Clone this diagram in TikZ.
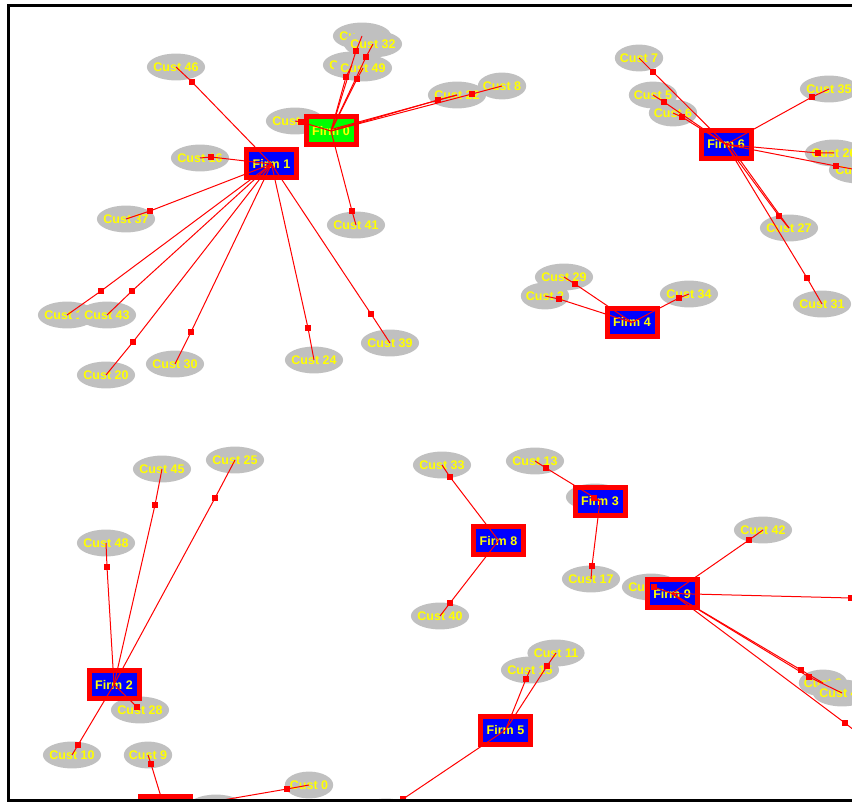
\documentclass[tikz,border=0pt]{standalone}
\usepackage{fontspec}
\newfontfamily\labelfamily{Liberation Sans}
\usetikzlibrary{shapes.geometric}
\definecolor{custgray}{RGB}{192,192,192}
\definecolor{linkred}{RGB}{255,0,0}
\definecolor{firmblue}{RGB}{0,0,255}
\definecolor{firmgreen}{RGB}{0,255,0}
\definecolor{labelyellow}{RGB}{255,255,0}

\begin{document}
\begin{tikzpicture}[x=1pt,y=-1pt,
  labeltext/.style={font=\labelfamily\bfseries\fontsize{12.5}{14}\selectfont,
    text=labelyellow, text height=9pt, text depth=0pt},
  custnode/.style={labeltext, ellipse, fill=custgray, inner xsep=-2pt, inner ysep=5pt},
  firmnode/.style={labeltext, rectangle, draw=linkred, line width=5pt, fill=firmblue,
    minimum width=50pt, minimum height=28pt, inner sep=0pt},
  leadfirm/.style={firmnode, fill=firmgreen},
  linkline/.style={draw=linkred, line width=1pt},
  linkknot/.style={rectangle, fill=linkred, minimum size=6pt, inner sep=0pt},
  viewframe/.style={draw=black, line width=3pt}
]
\useasboundingbox (0,0) rectangle (852,802);

\begin{scope}
\clip (10,7) rectangle (852,799);

% ---- customers (later ones overlap earlier ones) ----
% around Firm 1
\node[custnode] (c46) at (176,67)  {Cust 46};
\node[custnode] (c16) at (200,158) {Cust 16};
\node[custnode] (c37) at (126,219) {Cust 37};
\node[custnode] (c12) at (67,315)  {Cust 12};
\node[custnode] (c43) at (107,315) {Cust 43};
\node[custnode] (c20) at (106,375) {Cust 20};
\node[custnode] (c30) at (175,364) {Cust 30};
\node[custnode] (c24) at (314,360) {Cust 24};
\node[custnode] (c39) at (390,343) {Cust 39};
% around Firm 0
\node[custnode] (c41) at (356,225) {Cust 41};
\node[custnode] (c18) at (295,121) {Cust 18};
\node[custnode] (c19) at (362,36)  {Cust 19};
\node[custnode] (c32) at (373,44)  {Cust 32};
\node[custnode] (c21) at (352,65)  {Cust 21};
\node[custnode] (c49) at (363,68)  {Cust 49};
\node[custnode] (c22) at (457,95)  {Cust 22};
\node[custnode] (c8)  at (502,86)  {Cust 8};
% around Firm 6
\node[custnode] (c7)  at (639,58)  {Cust 7};
\node[custnode] (c5)  at (653,95)  {Cust 5};
\node[custnode] (c6)  at (673,113) {Cust 6};
\node[custnode] (c35) at (829,89)  {Cust 35};
\node[custnode] (c23) at (858,170) {Cust 23};
\node[custnode] (c26) at (834,153) {Cust 26};
\node[custnode] (c27) at (789,228) {Cust 27};
\node[custnode] (c31) at (822,304) {Cust 31};
% around Firm 4
\node[custnode] (c2)  at (545,296) {Cust 2};
\node[custnode] (c29) at (564,277) {Cust 29};
\node[custnode] (c34) at (689,294) {Cust 34};
% around Firm 8 and Firm 3
\node[custnode] (c33) at (442,465) {Cust 33};
\node[custnode] (c40) at (440,616) {Cust 40};
\node[custnode] (c13) at (535,461) {Cust 13};
\node[custnode] (c38) at (595,497) {Cust 38};
\node[custnode] (c17) at (591,579) {Cust 17};
% around Firm 9
\node[custnode] (c42) at (763,530) {Cust 42};
\node[custnode] (c36) at (651,587) {Cust 36};
\node[custnode] (c3)  at (823,683) {Cust 3};
\node[custnode] (c47) at (842,693) {Cust 47};
\node[custnode] (c1)  at (879,750) {Cust 1};
\node[custnode] (c4)  at (880,598) {Cust 4};
% around Firm 2 and Firm 7
\node[custnode] (c45) at (162,469) {Cust 45};
\node[custnode] (c25) at (235,460) {Cust 25};
\node[custnode] (c48) at (106,543) {Cust 48};
\node[custnode] (c28) at (140,710) {Cust 28};
\node[custnode] (c10) at (72,755)  {Cust 10};
\node[custnode] (c9)  at (148,755) {Cust 9};
\node[custnode] (c0)  at (309,785) {Cust 0};
\node[custnode] (c44) at (216,808) {Cust 44};
% around Firm 5
\node[custnode] (c11) at (556,653) {Cust 11};
\node[custnode] (c15) at (530,670) {Cust 15};
\node[custnode] (c14) at (386,812) {Cust 14};

% ---- firms ----
\node[leadfirm] (f0) at (331,131)   {Firm 0};
\node[firmnode] (f1) at (271.5,164) {Firm 1};
\node[firmnode] (f2) at (114,684.5) {Firm 2};
\node[firmnode] (f3) at (600,501)   {Firm 3};
\node[firmnode] (f4) at (632,322.5) {Firm 4};
\node[firmnode] (f5) at (505.5,730) {Firm 5};
\node[firmnode] (f6) at (726,144.5) {Firm 6};
\node[firmnode] (f7) at (165,810)   {Firm 7};
\node[firmnode] (f8) at (498.5,540.5) {Firm 8};
\node[firmnode] (f9) at (672,593.5) {Firm 9};

% ---- markers on the links ----
\foreach \c/\x/\y in {46/192/82, 16/211/157, 37/150/211, 12/101/291, 43/132/291,
    20/133/342, 30/191/332, 24/308/328, 39/371/314,
    41/352/211, 18/301/122, 19/356/51, 32/366/57, 21/346/77, 49/357/79,
    22/438/100, 8/472/94,
    7/653/72, 5/664/102, 6/682/117, 35/812/97, 26/818/153, 23/836/166,
    27/779/216, 31/807/278,
    29/575/284, 2/559/299, 34/679/298,
    33/450/477, 40/450/603, 13/546/468, 38/594/498, 17/592/566,
    42/749/540, 36/654/587, 4/851/598, 3/801/670, 47/809/677, 1/845/723,
    45/155/505, 25/215/498, 48/107/567, 28/137/707, 10/78/745,
    9/151/764, 0/287/789,
    15/526/679, 11/547/666, 14/403/799}
  \coordinate (q\c) at (\x,\y);

% ---- links firm -> customer ----
\foreach \f/\c in {f1/46, f1/16, f1/37, f1/12, f1/43, f1/20, f1/30, f1/24, f1/39,
    f0/41, f0/18, f0/19, f0/32, f0/21, f0/49, f0/22, f0/8,
    f6/7, f6/5, f6/6, f6/35, f6/26, f6/23, f6/27, f6/31,
    f4/29, f4/2, f4/34,
    f8/33, f8/40, f3/13, f3/38, f3/17,
    f9/42, f9/36, f9/4, f9/3, f9/47, f9/1,
    f2/45, f2/25, f2/48, f2/28, f2/10,
    f7/9, f7/0,
    f5/15, f5/11, f5/14}
  \draw[linkline] (\f.center) -- (q\c) -- (c\c.center);
\draw[linkline] ([shift={(5,3)}]f6.center) -- (c27.center);
\draw[linkline] ([shift={(2,-2)}]f0.center) -- (c22.center);

\foreach \c in {46,16,37,12,43,20,30,24,39,41,18,19,32,21,49,22,8,
    7,5,6,35,26,23,27,31,29,2,34,33,40,13,38,17,
    42,36,4,3,47,1,45,25,48,28,10,9,0,15,11,14}
  \node[linkknot] (k\c) at (q\c) {};
\end{scope}

% ---- window frame ----
\draw[viewframe] (8.5,802) -- (8.5,5.5) -- (852,5.5);
\draw[viewframe] (7,800.5) -- (852,800.5);
\end{tikzpicture}
\end{document}
